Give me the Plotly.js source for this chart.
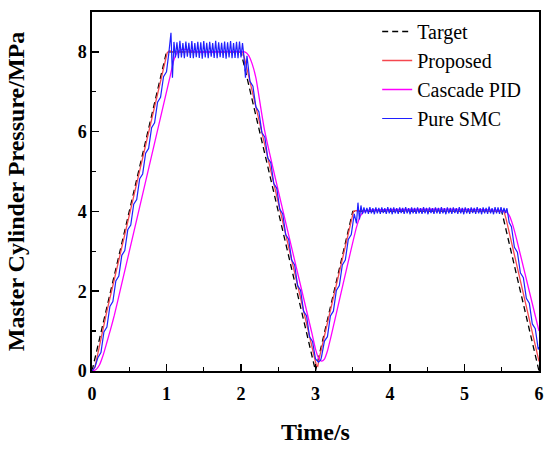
<!DOCTYPE html>
<html>
<head>
<meta charset="utf-8">
<script src="https://cdn.plot.ly/plotly-3.0.1.min.js"></script>
<style>html,body{margin:0;padding:0;background:#fff;}#chart{width:550px;height:449px;}</style>
</head>
<body>
<div id="chart"></div>
<script>
// Target reference pressure
var targetT = [0, 1.0, 2.0, 3.0, 3.5, 5.5, 6.0];
var targetP = [0, 8.0, 8.0, 0.0, 4.0, 4.0, 0.0];

// Proposed controller
var propT = [0, 0.04, 0.08, 0.15, 0.2, 1.01, 1.04, 1.08, 2.02, 2.05, 3.01, 3.03, 3.06, 3.51, 3.54, 5.53, 5.56, 6.0];
var propP = [0, 0.1, 0.45, 1.1, 1.5, 7.98, 8.03, 8.0, 8.0, 7.82, 0.15, 0.12, 0.4, 4.0, 4.02, 4.0, 3.8, 0.24];

// Cascade PID
var pidT = [0, 0.05, 0.1, 0.15, 0.2, 0.25, 0.3, 0.376, 1.05, 1.1, 1.15, 1.22, 1.3, 1.4, 2.05, 2.1, 2.15, 2.2, 2.32,
            2.95, 3.0, 3.04, 3.08, 3.12, 3.16, 3.2, 3.55, 3.6, 3.65, 3.72, 5.55, 5.6, 5.65, 5.7, 6.0];
var pidP = [0, 0.03, 0.15, 0.4, 0.72, 1.05, 1.4, 2.0, 7.4, 7.8, 8.0, 8.07, 8.05, 8.0, 8.0, 7.92, 7.7, 7.35, 6.0,
            0.96, 0.55, 0.33, 0.25, 0.3, 0.5, 0.8, 3.6, 3.88, 4.0, 4.03, 4.0, 3.9, 3.65, 3.3, 1.0];

// Pure SMC (chattering)
var smcT = [
  0, 0.04, 0.08, 0.12, 0.16, 0.20, 0.24, 0.28, 0.32, 0.36, 0.40, 0.44, 0.48, 0.52, 0.56, 0.60,
  0.64, 0.68, 0.72, 0.76, 0.80, 0.84, 0.88, 0.92, 0.96, 1.00, 1.03, 1.06, 1.08,
  1.10, 1.12, 1.14, 1.16, 1.18, 1.20, 1.22, 1.24, 1.26, 1.28, 1.30, 1.32, 1.34, 1.36, 1.38, 1.40,
  1.42, 1.44, 1.46, 1.48, 1.50, 1.52, 1.54, 1.56, 1.58, 1.60, 1.62, 1.64, 1.66, 1.68, 1.70, 1.72,
  1.74, 1.76, 1.78, 1.80, 1.82, 1.84, 1.86, 1.88, 1.90, 1.92, 1.94, 1.96, 1.98, 2.00, 2.02, 2.04,
  2.06, 2.08, 2.12, 2.16, 2.20, 2.24, 2.28, 2.32, 2.36, 2.40, 2.44, 2.48, 2.52, 2.56, 2.60, 2.64,
  2.68, 2.72, 2.76, 2.80, 2.84, 2.88, 2.92, 2.96, 3.00, 3.04, 3.07,
  3.08, 3.12, 3.16, 3.20, 3.24, 3.28, 3.32, 3.36, 3.40, 3.44, 3.48, 3.52, 3.55, 3.57, 3.59, 3.61,
  3.63, 3.65, 3.67, 3.69, 3.71, 3.73, 3.75, 3.77, 3.79, 3.81,
  3.83, 3.85, 3.87, 3.89, 3.91, 3.93, 3.95, 3.97, 3.99, 4.01,
  4.03, 4.05, 4.07, 4.09, 4.11, 4.13, 4.15, 4.17, 4.19, 4.21,
  4.23, 4.25, 4.27, 4.29, 4.31, 4.33, 4.35, 4.37, 4.39, 4.41,
  4.43, 4.45, 4.47, 4.49, 4.51, 4.53, 4.55, 4.57, 4.59, 4.61,
  4.63, 4.65, 4.67, 4.69, 4.71, 4.73, 4.75, 4.77, 4.79, 4.81,
  4.83, 4.85, 4.87, 4.89, 4.91, 4.93, 4.95, 4.97, 4.99, 5.01,
  5.03, 5.05, 5.07, 5.09, 5.11, 5.13, 5.15, 5.17, 5.19, 5.21,
  5.23, 5.25, 5.27, 5.29, 5.31, 5.33, 5.35, 5.37, 5.39, 5.41,
  5.43, 5.45, 5.47, 5.49, 5.51, 5.53, 5.55,
  5.57, 5.60, 5.63, 5.67, 5.71, 5.75, 5.79, 5.83, 5.87, 5.91, 5.95, 5.99, 6.0
];
var smcP = [
  0, 0.1, 0.34, 0.46, 0.98, 1.10, 1.62, 1.74, 2.26, 2.38, 2.90, 3.02, 3.54, 3.66, 4.18, 4.30,
  4.82, 4.94, 5.46, 5.58, 6.10, 6.22, 6.74, 6.86, 7.38, 7.50, 7.95, 8.48, 7.35,
  8.25, 7.86, 8.24, 7.84, 8.28, 7.86, 8.22, 7.84, 8.26, 7.88, 8.23, 7.85, 8.27, 7.84, 8.22, 7.87,
  8.25, 7.85, 8.24, 7.83, 8.27, 7.86, 8.23, 7.84, 8.25, 7.88, 8.22, 7.85, 8.28, 7.84, 8.24, 7.87,
  8.23, 7.85, 8.26, 7.83, 8.24, 7.86, 8.27, 7.84, 8.22, 7.85, 8.25, 7.84, 8.26, 7.86, 8.22, 7.88,
  7.35, 7.9, 7.26, 7.14, 6.62, 6.50, 5.98, 5.86, 5.34, 5.22, 4.70, 4.58, 4.06, 3.94, 3.42, 3.30,
  2.78, 2.66, 2.14, 2.02, 1.50, 1.38, 0.86, 0.74, 0.3, 0.22, 0.28,
  0.35, 0.75, 0.86, 1.38, 1.5, 2.02, 2.14, 2.66, 2.78, 3.3, 3.42, 3.94, 3.7, 4.22, 3.8, 4.15,
  3.93, 4.10, 3.95, 4.09, 3.94, 4.11, 3.95, 4.08, 3.93, 4.10,
  3.95, 4.09, 3.94, 4.10, 3.96, 4.08, 3.94, 4.11, 3.95, 4.09,
  3.93, 4.10, 3.95, 4.08, 3.94, 4.10, 3.96, 4.09, 3.94, 4.11,
  3.95, 4.08, 3.93, 4.10, 3.95, 4.09, 3.94, 4.10, 3.95, 4.08,
  3.94, 4.11, 3.95, 4.09, 3.93, 4.10, 3.96, 4.08, 3.94, 4.10,
  3.95, 4.09, 3.94, 4.11, 3.95, 4.08, 3.93, 4.10, 3.95, 4.09,
  3.94, 4.10, 3.96, 4.08, 3.94, 4.11, 3.95, 4.09, 3.93, 4.10,
  3.95, 4.08, 3.94, 4.10, 3.96, 4.09, 3.94, 4.11, 3.95, 4.08,
  3.93, 4.10, 3.95, 4.09, 3.94, 4.12, 3.95, 4.08, 3.93, 4.11,
  3.95, 4.10, 3.94, 4.11, 3.95, 4.09, 3.96,
  4.08, 3.72, 3.62, 3.10, 2.98, 2.46, 2.34, 1.82, 1.70, 1.18, 1.06, 0.54, 0.6
];

var seriesNames = ['Target', 'Proposed', 'Cascade PID', 'Pure SMC'];
var xTitle = 'Time/s';
var yTitle = 'Master Cylinder Pressure/MPa';

var serif = '"Times New Roman", "Liberation Serif", serif';

var traces = [
  {x: targetT, y: targetP, name: seriesNames[0], mode: 'lines', line: {color: '#000000', width: 1.3, dash: '6px,4px'}},
  {x: propT, y: propP, name: seriesNames[1], mode: 'lines', line: {color: '#f5474f', width: 1.3}},
  {x: pidT, y: pidP, name: seriesNames[2], mode: 'lines', line: {color: '#ff00ff', width: 1.3, shape: 'spline', smoothing: 0.6}},
  {x: smcT, y: smcP, name: seriesNames[3], mode: 'lines', line: {color: '#1f1fff', width: 1.2}}
];

var axisCommon = {
  showgrid: false, zeroline: false, showline: true, linecolor: '#000', linewidth: 1.6,
  mirror: true, ticks: 'inside', ticklen: 7, tickwidth: 1.5, tickcolor: '#000',
  tickfont: {family: serif, size: 18, color: '#000', weight: 'bold'}
};

var layout = {
  width: 550, height: 449,
  margin: {l: 92, r: 11, t: 12, b: 78},
  paper_bgcolor: '#fff', plot_bgcolor: '#fff',
  showlegend: true,
  legend: {x: 0.638, y: 1.0, xanchor: 'left', yanchor: 'top', bgcolor: 'rgba(0,0,0,0)',
           font: {family: serif, size: 20, color: '#000'}},
  xaxis: Object.assign({}, axisCommon, {
    range: [0, 6], dtick: 1, tick0: 0, ticklabelstandoff: 6,
    minor: {ticks: 'inside', dtick: 0.5, ticklen: 4, tickwidth: 1.3, tickcolor: '#000'},
    title: {text: xTitle, font: {family: serif, size: 24, color: '#000', weight: 'bold'}, standoff: 20}
  }),
  yaxis: Object.assign({}, axisCommon, {
    range: [0, 9], dtick: 2, tick0: 0,
    minor: {ticks: 'inside', dtick: 1, ticklen: 4, tickwidth: 1.3, tickcolor: '#000'},
    title: {text: yTitle, font: {family: serif, size: 24, color: '#000', weight: 'bold'}, standoff: 46}
  })
};

Plotly.newPlot('chart', traces, layout, {displayModeBar: false, staticPlot: true});
</script>
</body>
</html>
